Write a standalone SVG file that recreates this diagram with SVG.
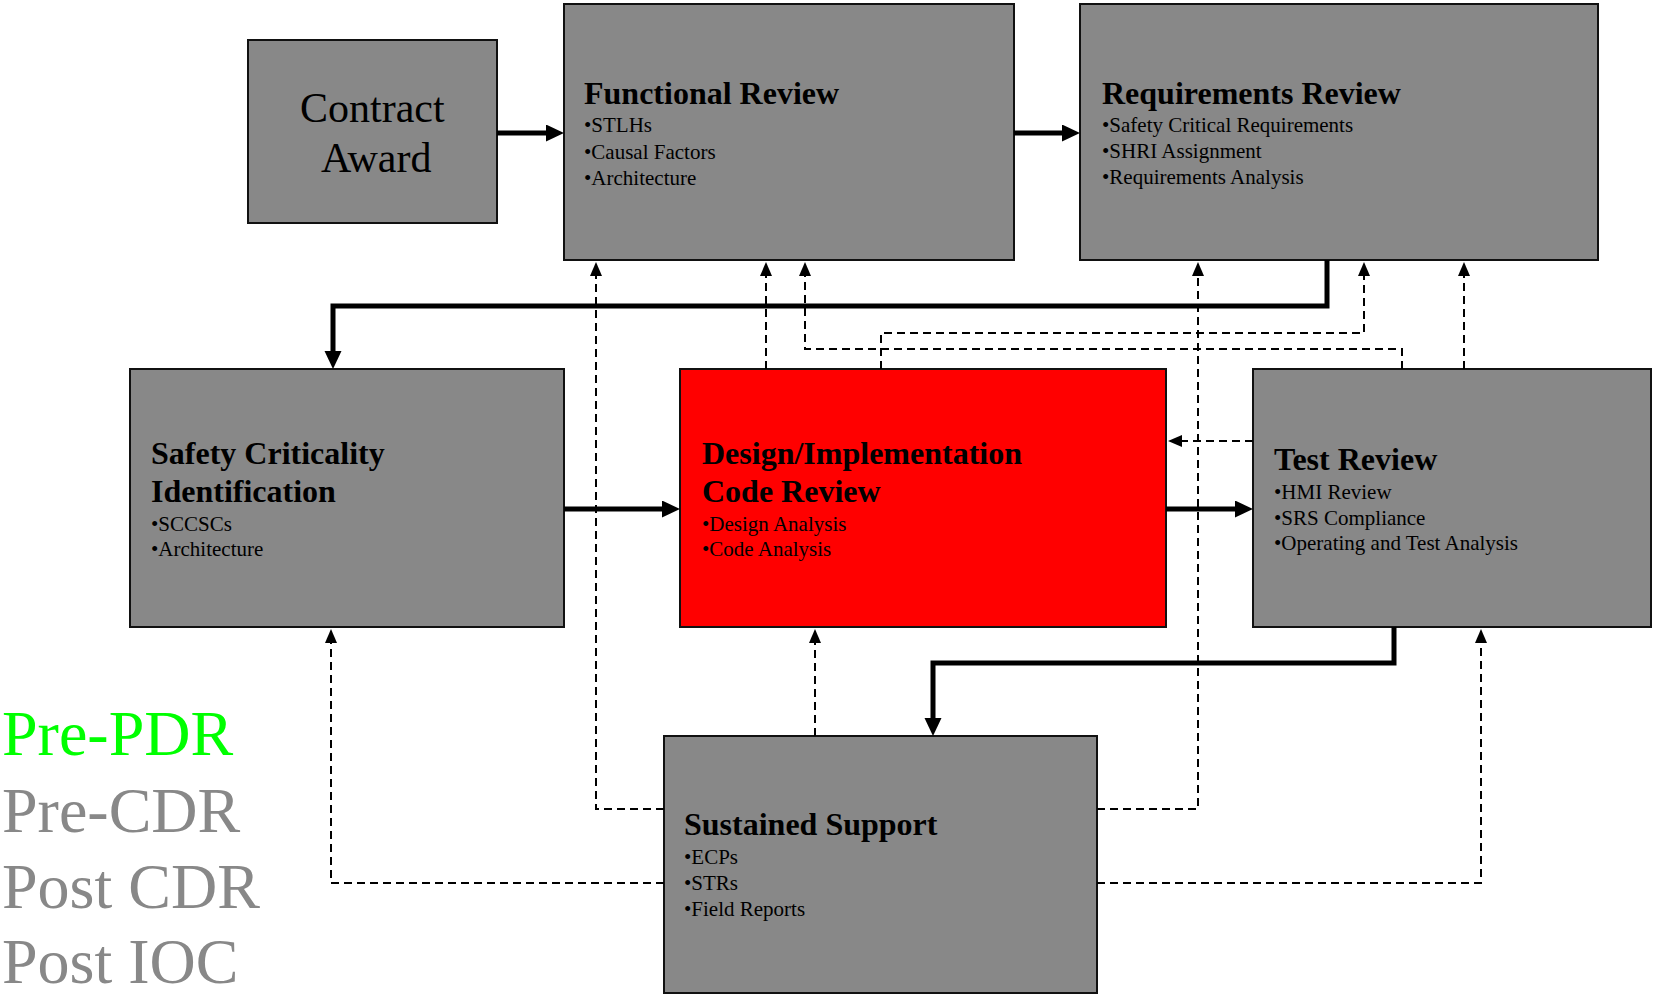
<svg xmlns="http://www.w3.org/2000/svg" width="1655" height="995" viewBox="0 0 1655 995">
  <style>
    .box { fill: #888888; stroke: #111111; stroke-width: 2; }
    .box.hot { fill: #ff0000; }
    .title { font-family: "Liberation Serif", "Times New Roman", serif; font-weight: bold; font-size: 32px; fill: #000; }
    .item { font-family: "Liberation Serif", "Times New Roman", serif; font-size: 21px; fill: #000; }
    .big { font-family: "Liberation Serif", "Times New Roman", serif; font-size: 42px; fill: #000; }
    .phase { font-family: "Liberation Serif", "Times New Roman", serif; font-size: 64px; fill: #888888; }
    .phase.now { fill: #00ff00; }
    .flow { fill: none; stroke: #000; stroke-width: 5; marker-end: url(#headBold); }
    .feedback { fill: none; stroke: #000; stroke-width: 2; stroke-dasharray: 8 5; marker-end: url(#headDash); }
  </style>
  <defs>
    <marker id="headBold" markerUnits="userSpaceOnUse" markerWidth="19" markerHeight="18" refX="1" refY="8.5" orient="auto">
      <path d="M0,0 L18,8.5 L0,17 Z" fill="#000"/>
    </marker>
    <marker id="headDash" markerUnits="userSpaceOnUse" markerWidth="15" markerHeight="12" refX="1" refY="6" orient="auto">
      <path d="M0,0 L14,6 L0,12 Z" fill="#000"/>
    </marker>
  </defs>

  <rect width="1655" height="995" fill="#ffffff"/>

  <!-- process steps -->
  <g id="contract-award">
    <rect class="box" x="248" y="40" width="249" height="183"/>
    <text class="big" x="300" y="122">Contract</text>
    <text class="big" x="321" y="172">Award</text>
  </g>

  <g id="functional-review">
    <rect class="box" x="564" y="4" width="450" height="256"/>
    <text class="title" x="584" y="104">Functional Review</text>
    <text class="item" x="584" y="132">•STLHs</text>
    <text class="item" x="584" y="158.5">•Causal Factors</text>
    <text class="item" x="584" y="185">•Architecture</text>
  </g>

  <g id="requirements-review">
    <rect class="box" x="1080" y="4" width="518" height="256"/>
    <text class="title" x="1102" y="104">Requirements Review</text>
    <text class="item" x="1102" y="132">•Safety Critical Requirements</text>
    <text class="item" x="1102" y="158">•SHRI Assignment</text>
    <text class="item" x="1102" y="184">•Requirements Analysis</text>
  </g>

  <g id="safety-criticality">
    <rect class="box" x="130" y="369" width="434" height="258"/>
    <text class="title" x="151" y="464">Safety Criticality</text>
    <text class="title" x="151" y="502">Identification</text>
    <text class="item" x="151" y="531">•SCCSCs</text>
    <text class="item" x="151" y="556">•Architecture</text>
  </g>

  <g id="design-code-review">
    <rect class="box hot" x="680" y="369" width="486" height="258"/>
    <text class="title" x="702" y="464">Design/Implementation</text>
    <text class="title" x="702" y="502">Code Review</text>
    <text class="item" x="702" y="531">•Design Analysis</text>
    <text class="item" x="702" y="556">•Code Analysis</text>
  </g>

  <g id="test-review">
    <rect class="box" x="1253" y="369" width="398" height="258"/>
    <text class="title" x="1274" y="470">Test Review</text>
    <text class="item" x="1274" y="499">•HMI Review</text>
    <text class="item" x="1274" y="524.5">•SRS Compliance</text>
    <text class="item" x="1274" y="550">•Operating and Test Analysis</text>
  </g>

  <g id="sustained-support">
    <rect class="box" x="664" y="736" width="433" height="257"/>
    <text class="title" x="684" y="835">Sustained Support</text>
    <text class="item" x="684" y="864">•ECPs</text>
    <text class="item" x="684" y="890">•STRs</text>
    <text class="item" x="684" y="916">•Field Reports</text>
  </g>

  <!-- phase legend -->
  <g id="phase-legend">
    <text class="phase now" x="2" y="755">Pre-PDR</text>
    <text class="phase" x="2" y="832">Pre-CDR</text>
    <text class="phase" x="2" y="908">Post CDR</text>
    <text class="phase" x="2" y="983">Post IOC</text>
  </g>

  <g id="connectors">
    <!-- main flow -->
    <path class="flow" d="M497,133 H547"/>
    <path class="flow" d="M1014,133 H1063"/>
    <path class="flow" d="M1327,260 V306 H333 V352"/>
    <path class="flow" d="M564,509 H663"/>
    <path class="flow" d="M1166,509 H1236"/>
    <path class="flow" d="M1394,627 V663 H933 V719"/>

    <!-- feedback paths -->
    <path class="feedback" d="M766,369 V275"/>
    <path class="feedback" d="M881,369 V333 H1364 V275"/>
    <path class="feedback" d="M1402,369 V349 H805 V275"/>
    <path class="feedback" d="M1464,369 V275"/>
    <path class="feedback" d="M1253,441 H1181"/>
    <path class="feedback" d="M664,809 H596 V275"/>
    <path class="feedback" d="M664,883 H331 V642"/>
    <path class="feedback" d="M815,736 V642"/>
    <path class="feedback" d="M1097,809 H1198 V275"/>
    <path class="feedback" d="M1097,883 H1481 V642"/>
  </g>
</svg>
